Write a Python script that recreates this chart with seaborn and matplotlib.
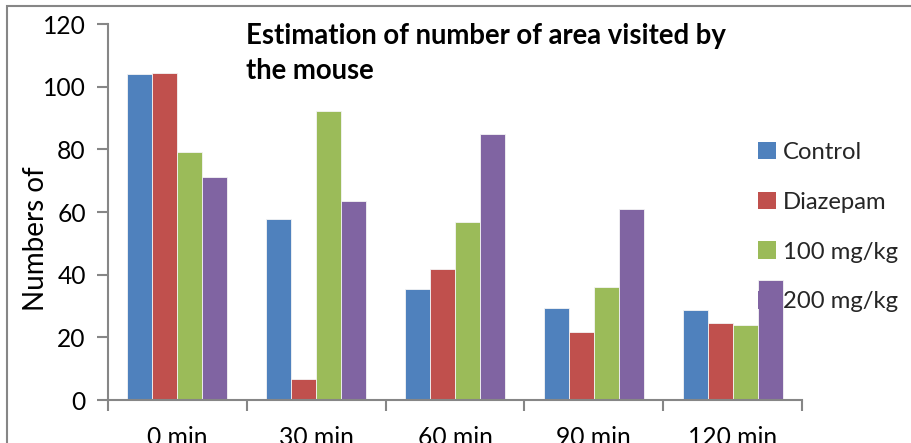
import matplotlib
matplotlib.use("Agg")
import matplotlib.pyplot as plt
from matplotlib.patches import Rectangle
import seaborn as sns
import pandas as pd

# Time points and treatment groups
times = ["0 min", "30 min", "60 min", "90 min", "120 min"]
groups = ["Control", "Diazepam", "100 mg/kg", "200 mg/kg"]

control = [104.0, 57.7, 35.3, 29.3, 28.6]
diazepam = [104.5, 6.6, 41.7, 21.7, 24.6]
dose_100 = [79.0, 92.2, 56.9, 36.0, 24.0]
dose_200 = [71.1, 63.5, 85.0, 61.1, 38.3]

colors = ["#4F81BD", "#C0504D", "#9BBB59", "#8064A2"]

df = pd.DataFrame({
    "time": times * 4,
    "group": [g for g in groups for _ in times],
    "value": control + diazepam + dose_100 + dose_200,
})

sns.set_theme(style="white")
plt.rcParams["font.family"] = ["Lato", "DejaVu Sans"]

fig = plt.figure(figsize=(9.12, 4.43), dpi=100)
ax = fig.add_axes([108 / 912, 1 - 400 / 443, (802 - 108) / 912, (400 - 24) / 443])

sns.barplot(data=df, x="time", y="value", hue="group", order=times,
            hue_order=groups, palette=colors, width=0.72, gap=0,
            saturation=1, linewidth=0.6, edgecolor="#f4f4f4", ax=ax, legend=True)

axis_color = "#868686"
ax.set_ylim(0, 120)
ax.set_xlim(-0.5, len(times) - 0.5)
ax.set_yticks(range(0, 121, 20))
ax.set_xticks([i - 0.5 for i in range(len(times) + 1)], minor=True)
ax.tick_params(axis="x", which="major", length=0, pad=19, labelsize=17.7,
               colors="#000000")
ax.tick_params(axis="x", which="minor", length=8, width=1.5, color=axis_color,
               direction="out", bottom=True)
ax.tick_params(axis="y", length=8, width=1.5, color=axis_color, direction="out",
               left=True, labelsize=17.7, pad=8, labelcolor="#000000")
for side in ["top", "right"]:
    ax.spines[side].set_visible(False)
for side in ["left", "bottom"]:
    ax.spines[side].set_color(axis_color)
    ax.spines[side].set_linewidth(1.5)
ax.set_xlabel("")
ax.set_ylabel("Numbers of", fontsize=20, color="#000000", va="center")
ax.yaxis.set_label_coords((36 - 108) / (802 - 108), 1 - (239 - 24) / 376)

# Legend at the right of the plot area
handles, labels = ax.get_legend_handles_labels()
leg = ax.legend(handles, labels, loc="upper left",
                bbox_to_anchor=(758 / 912, 1 - 142 / 443),
                bbox_transform=fig.transFigure, frameon=False, fontsize=17.2,
                handlelength=0.75, handleheight=0.75, handletextpad=0.28,
                labelspacing=1.2, borderpad=0, borderaxespad=0)
for h in leg.legend_handles:
    h.set_linewidth(0)

fig.text(246 / 912, 1 - 23 / 443, "Estimation of number of area visited by\nthe mouse",
         fontsize=19.8, fontweight="bold", va="top", ha="left",
         linespacing=1.42, color="#000000")

# Chart frame
fig.patches.append(Rectangle((7 / 912, -0.2), 1.2, 1.2 - 6 / 443,
                             transform=fig.transFigure, fill=False,
                             edgecolor=axis_color, linewidth=1.5, zorder=0))

fig.savefig("out.png", dpi=100)
